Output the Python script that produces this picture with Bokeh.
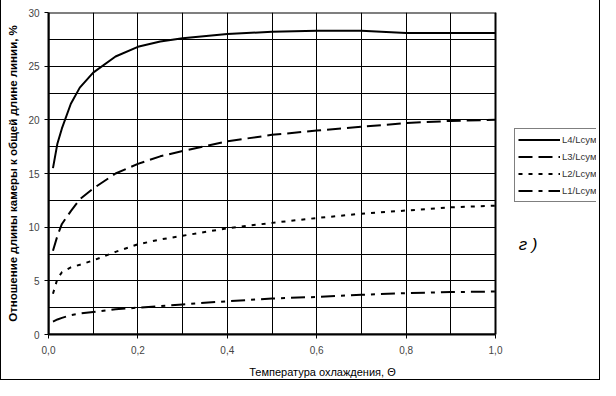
from bokeh.plotting import figure
from bokeh.models import (FixedTicker, Legend, LegendItem, Label, Range1d,
                          BoxAnnotation)
from bokeh.embed import file_html
from bokeh.resources import INLINE

theta = [0.01, 0.02, 0.03, 0.05, 0.07, 0.1, 0.15, 0.2, 0.25, 0.3,
         0.4, 0.5, 0.6, 0.7, 0.8, 0.9, 1.0]
L4 = [15.5, 17.8, 19.2, 21.5, 23.0, 24.4, 25.9, 26.8, 27.3, 27.6,
      28.0, 28.2, 28.3, 28.3, 28.1, 28.1, 28.1]
L3 = [7.8, 9.2, 10.3, 11.5, 12.6, 13.6, 15.0, 15.9, 16.6, 17.1,
      18.0, 18.6, 19.0, 19.35, 19.7, 19.9, 20.0]
L2 = [3.8, 5.2, 5.8, 6.25, 6.5, 6.9, 7.7, 8.4, 8.85, 9.2,
      9.9, 10.4, 10.85, 11.25, 11.55, 11.85, 12.0]
L1 = [1.2, 1.4, 1.55, 1.8, 1.95, 2.1, 2.35, 2.5, 2.65, 2.8,
      3.1, 3.35, 3.5, 3.7, 3.85, 3.95, 4.0]
series_names = ["L4/Lсум", "L3/Lсум", "L2/Lсум", "L1/Lсум"]
x_ticks = [0.0, 0.2, 0.4, 0.6, 0.8, 1.0]
x_tick_labels = ["0,0", "0,2", "0,4", "0,6", "0,8", "1,0"]
y_ticks = [0, 5, 10, 15, 20, 25, 30]
x_grid = [round(i * 0.1, 1) for i in range(11)]
y_grid = [i * 2.5 for i in range(13)]

FONT = "Liberation Sans"
X_MIN, X_MAX_DATA = 0.0, 1.0
Y_MIN, Y_MAX = 0.0, 30.0
# frame extends to the right of the data area to hold legend and label
X_VIEW_MAX = 548 / 447

p = figure(width=600, height=380, output_backend="svg", toolbar_location=None,
           x_range=Range1d(X_MIN, X_VIEW_MAX), y_range=Range1d(Y_MIN, Y_MAX),
           min_border_left=47, min_border_right=5, min_border_top=12,
           min_border_bottom=42)
p.styles = {"border-left": "1px solid black", "border-right": "1px solid black",
            "border-bottom": "1px solid black"}

p.xaxis.ticker = FixedTicker(ticks=x_ticks)
p.xaxis.major_label_overrides = {t: l for t, l in zip(x_ticks, x_tick_labels)}
p.xaxis.bounds = (X_MIN, X_MAX_DATA)
p.yaxis.ticker = FixedTicker(ticks=y_ticks)
p.xgrid.ticker = FixedTicker(ticks=x_grid)
p.ygrid.ticker = FixedTicker(ticks=y_grid)
p.ygrid.cross_bounds = (X_MIN, X_MAX_DATA)
for g in (p.xgrid, p.ygrid):
    g.grid_line_color = "black"
    g.grid_line_width = 1
    g.grid_line_alpha = 1
p.outline_line_color = None

box = BoxAnnotation(left=X_MIN, right=X_MAX_DATA, bottom=Y_MIN, top=Y_MAX,
                    fill_alpha=0, line_color="black", line_width=2, line_alpha=1)
p.add_layout(box)

for ax in (p.xaxis, p.yaxis):
    ax.axis_line_color = "black"
    ax.axis_line_width = 2
    ax.major_tick_line_color = "black"
    ax.major_tick_out = 4
    ax.major_tick_in = 0
    ax.minor_tick_line_color = None
    ax.major_label_text_font = FONT
    ax.major_label_text_font_size = "10px"
    ax.major_label_text_color = "#444444"
    ax.axis_label_text_font = FONT
    ax.axis_label_text_color = "black"

p.xaxis.axis_label = "Температура охлаждения, Θ"
p.xaxis.axis_label_text_font_style = "normal"
p.xaxis.axis_label_text_font_size = "11px"
p.xaxis.major_label_standoff = 7
p.xaxis.axis_label_standoff = 9

p.yaxis.axis_label = "Отношение длины камеры к общей длине линии, %"
p.yaxis.axis_label_text_font_style = "bold"
p.yaxis.axis_label_text_font_size = "11.5px"
p.yaxis.major_label_standoff = 5
p.yaxis.axis_label_standoff = 6

dashes = ["solid", "14 6", "4 6", "14 6 4 6"]
data = [L4, L3, L2, L1]
items = []
for name, ys, d in zip(series_names, data, dashes):
    r = p.line(theta, ys, line_color="black", line_width=2, line_dash=d)
    items.append(LegendItem(label=name, renderers=[r]))

legend = Legend(items=items, location=(466, 132))
legend.border_line_color = "black"
legend.border_line_width = 1
legend.background_fill_alpha = 1
legend.label_text_font = FONT
legend.label_text_font_size = "9.5px"
legend.label_text_color = "#333333"
legend.glyph_width = 42
legend.glyph_height = 15
legend.label_height = 15
legend.label_standoff = 2
legend.spacing = 2
legend.padding = 3
legend.margin = 0
p.add_layout(legend, "center")

lab = Label(x=1.052, y=7.5, text="г )", text_font=FONT,
            text_font_style="italic", text_font_size="17px", text_color="black")
p.add_layout(lab)

open("out.html", "w").write(file_html(p, INLINE))
